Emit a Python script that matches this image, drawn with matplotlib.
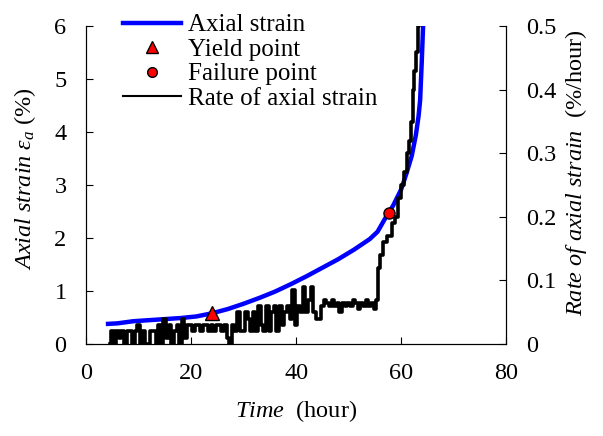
import numpy as np
import matplotlib
matplotlib.use("Agg")
import matplotlib.pyplot as plt
from matplotlib.lines import Line2D

plt.rcParams['font.family'] = 'Liberation Serif'
plt.rcParams['mathtext.fontset'] = 'custom'
plt.rcParams['mathtext.rm'] = 'Liberation Serif'
plt.rcParams['mathtext.it'] = 'Liberation Serif:italic'
plt.rcParams['font.size'] = 17.5

# Axial strain curve (hour, %)
strain_t = [4.2, 6, 9, 12, 15, 18, 21, 24, 27, 30, 33, 36, 39, 42, 45, 48, 51,
            54, 55.5, 57, 58.5, 60, 61, 62, 62.8, 63.3, 63.6, 63.9, 64.2]
strain_v = [0.38, 0.39, 0.43, 0.45, 0.47, 0.49, 0.52, 0.58, 0.66, 0.76, 0.87,
            0.99, 1.13, 1.28, 1.44, 1.60, 1.78, 1.98, 2.12, 2.38, 2.62, 2.92,
            3.22, 3.55, 3.95, 4.3, 4.6, 5.3, 6.1]

# Yield / failure points
yield_t, yield_v = 24.0, 0.58
fail_t, fail_v = 57.7, 2.47

# Rate of axial strain (%/hour), sampled every 0.5 h from 4.5 to 55.5 h
rate_t1 = np.arange(4.5, 55.51, 0.5)
rate_v1 = [0.0, 0.02, 0.0, 0.02, 0.01, 0.02, 0.0, 0.02, 0.02, 0.0, 0.02,
           0.03, 0.0, 0.02, 0.0, 0.0, 0.02, 0.02, 0.0, 0.03, 0.0,
           0.04, 0.01, 0.03, 0.0, 0.02, 0.03, 0.0, 0.04, 0.01, 0.03,
           0.03, 0.02, 0.03, 0.03, 0.02, 0.03, 0.03, 0.02, 0.03, 0.02,
           0.03, 0.03, 0.02, 0.03, 0.01, 0.0, 0.03, 0.02, 0.05, 0.02,
           0.02, 0.05, 0.04, 0.02, 0.05, 0.02, 0.06, 0.03, 0.02, 0.06,
           0.02, 0.05, 0.06, 0.02, 0.06, 0.03, 0.05, 0.06, 0.04, 0.085,
           0.03, 0.06, 0.05, 0.09, 0.05, 0.07, 0.09, 0.05, 0.04, 0.04,
           0.06, 0.07, 0.065, 0.06, 0.07, 0.06, 0.065, 0.05, 0.065, 0.06,
           0.065, 0.06, 0.07, 0.065, 0.055, 0.065, 0.06, 0.07, 0.06, 0.065,
           0.055, 0.07]
# steep part after 55.5 h
rate_t2 = [55.8, 56.2, 57.0, 57.5, 58.0, 58.5, 59.0, 59.8, 60.3, 60.8, 61.3,
           61.6, 62.0, 62.3, 62.7, 63.0, 63.3, 63.5]
rate_v2 = [0.12, 0.14, 0.16, 0.17, 0.17, 0.19, 0.20, 0.23, 0.25, 0.27, 0.30,
           0.32, 0.35, 0.40, 0.43, 0.46, 0.50, 0.52]

rate_t = list(rate_t1) + rate_t2
rate_v = rate_v1 + rate_v2

fig = plt.figure(figsize=(6.03, 4.36), dpi=100)
ax1 = fig.add_axes([0.1426, 0.211, 0.697, 0.729])
ax2 = ax1.twinx()

ax1.plot(strain_t, strain_v, color='blue', lw=3.2, zorder=2)
ax1.plot(yield_t, yield_v, '^', color='red', mec='black', mew=1, ms=10, zorder=5)
ax1.plot(fail_t, fail_v, 'o', color='red', mec='black', mew=1, ms=8, zorder=5)
ax2.plot(rate_t, rate_v, color='black', lw=2.6, drawstyle='steps-mid')

ax1.set_xlim(0, 80)
ax1.set_ylim(0, 6)
ax2.set_ylim(0, 0.5)
ax1.set_xticks([0, 20, 40, 60, 80])
ax1.set_yticks(range(0, 7))
ax2.set_yticks([0, 0.1, 0.2, 0.3, 0.4, 0.5])
ax2.set_yticklabels(['0', '0.1', '0.2', '0.3', '0.4', '0.5'])

for ax in (ax1, ax2):
    ax.spines['top'].set_visible(False)
    ax.tick_params(direction='in', length=5, width=0.8, pad=14)

ax1.set_xlabel(r'$\mathit{Time}$  (hour)', labelpad=10)
ax1.set_ylabel(r'$\mathit{Axial\ strain}\ \varepsilon_a$ (%)')
ax2.set_ylabel(r'$\mathit{Rate\ of\ axial\ strain}$  (%/hour)')
ax1.yaxis.set_label_coords(-0.115, 0.52)
ax2.yaxis.set_label_coords(1.135, 0.54)

handles = [Line2D([], [], color='blue', lw=3.2),
           Line2D([], [], ls='none', marker='^', color='red', mec='black', ms=8),
           Line2D([], [], ls='none', marker='o', color='red', mec='black', ms=7),
           Line2D([], [], color='black', lw=1.5)]
labels = ['Axial strain', 'Yield point', 'Failure point', 'Rate of axial strain']
ax2.legend(handles, labels, loc='upper left', bbox_to_anchor=(0.065, 1.07),
           frameon=False, labelspacing=0.08, handlelength=2.3, handletextpad=0.3,
           borderaxespad=0, fontsize=18)

fig.savefig('out.png', dpi=100)
